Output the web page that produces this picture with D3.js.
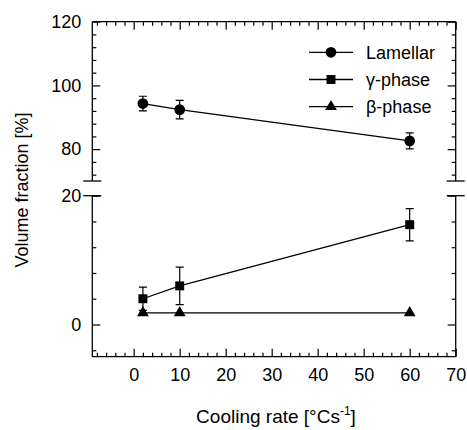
<!DOCTYPE html>
<html lang="en"><head>
<meta charset="utf-8">
<script src="https://cdnjs.cloudflare.com/ajax/libs/d3/7.8.5/d3.min.js"></script>
<style>
  body { margin: 0; background: #fff; }
  svg text { font-family: "Liberation Sans", Arial, Helvetica, sans-serif; fill: #000; }
  .axis path { display: none; }
  .axis line { stroke: #000; stroke-width: 1.2; }
</style>
</head>
<body>
<svg id="chart" width="467" height="430"></svg>
<script>
// cooling rates (x) and measured fractions
const rates = [2, 10, 60]
const lamellar = [94.3, 92.4, 82.6]
const lamellarErr = [2.3, 2.9, 2.5]
const gamma = [4.0, 6.0, 15.5]
const gammaErr = [1.8, 2.9, 2.5]
const beta = [1.8, 1.8, 1.8]

const xMajor = [0, 10, 20, 30, 40, 50, 60, 70]
const upperMajor = [80, 100, 120]
const lowerMajor = [0, 20]
const series = ["Lamellar", "\u03b3-phase", "\u03b2-phase"]

const L = 92.3, R = 455.7, T = 21.7, B = 356.7
const breakTop = 181, breakBot = 195.7

const svg = d3.select("#chart")
const x = d3.scaleLinear().domain([-9, 70]).range([L, R])
const yUp = d3.scaleLinear().domain([70, 120]).range([breakTop, T])
const yLo = d3.scaleLinear().domain([-5, 20]).range([B, breakBot])

// frame
const frame = svg.append("g").attr("stroke", "#000").attr("stroke-width", 1.3)
const seg = (x1, y1, x2, y2) => frame.append("line")
  .attr("x1", x1).attr("y1", y1).attr("x2", x2).attr("y2", y2)
seg(L, T, R, T)
seg(L, B, R, B)
seg(L, T, L, breakTop); seg(L, breakBot, L, B)
seg(R, T, R, breakTop); seg(R, breakBot, R, B)
// axis break marks
;[breakTop, breakBot].forEach(y => { seg(L - 9, y, L + 9, y); seg(R - 9, y, R + 9, y) })

const fs = 18
function axis(gen, tx, ty) {
  const g = svg.append("g").attr("class", "axis")
    .attr("transform", `translate(${tx},${ty})`).call(gen)
  g.selectAll("text").style("font-size", fs + "px")
  return g
}

// x axes (bottom + top)
const xMinor = d3.range(-8, 70, 2).filter(v => v % 10 != 0)
axis(d3.axisBottom(x).tickValues(xMinor).tickSizeInner(-4).tickSizeOuter(0).tickFormat(""), 0, B)
axis(d3.axisBottom(x).tickValues(xMajor).tickSizeInner(-8).tickSizeOuter(0).tickPadding(12), 0, B)
axis(d3.axisTop(x).tickValues(xMinor).tickSizeInner(-4).tickSizeOuter(0).tickFormat(""), 0, T)
axis(d3.axisTop(x).tickValues(xMajor).tickSizeInner(-8).tickSizeOuter(0).tickFormat(""), 0, T)

// y axes, both panels, left + right
const upMinor = d3.range(72, 120, 4).filter(v => v % 20 != 0)
const loMinor = [-4, 4, 8, 12, 16]
;[[yUp, upMinor, upperMajor], [yLo, loMinor, lowerMajor]].forEach(([s, mi, ma]) => {
  axis(d3.axisLeft(s).tickValues(mi).tickSizeInner(-4).tickSizeOuter(0).tickFormat(""), L, 0)
  axis(d3.axisLeft(s).tickValues(ma).tickSizeInner(-8).tickSizeOuter(0).tickPadding(11), L, 0)
  axis(d3.axisRight(s).tickValues(mi).tickSizeInner(-4).tickSizeOuter(0).tickFormat(""), R, 0)
  axis(d3.axisRight(s).tickValues(ma).tickSizeInner(-8).tickSizeOuter(0).tickFormat(""), R, 0)
})

// axis titles
const xt = svg.append("text").attr("x", 276).attr("y", 423).attr("text-anchor", "middle")
  .style("font-size", "19px")
xt.append("tspan").text("Cooling rate [\u00b0Cs")
xt.append("tspan").attr("dy", -8).style("font-size", "12px").text("-1")
xt.append("tspan").attr("dy", 8).text("]")
svg.append("text").attr("transform", "translate(28,190) rotate(-90)")
  .attr("text-anchor", "middle").style("font-size", fs + "px")
  .text("Volume fraction [%]")

// markers
const sym = {
  "Lamellar": d3.symbol(d3.symbolCircle, 90),
  "\u03b3-phase": d3.symbol(d3.symbolSquare, 80),
  "\u03b2-phase": d3.symbol(d3.symbolTriangle, 60)
}
const line = d3.line()
function drawSeries(name, ys, errs, yS) {
  const g = svg.append("g")
  g.append("path").attr("d", line(rates.map((r, i) => [x(r), yS(ys[i])])))
    .attr("fill", "none").attr("stroke", "#000").attr("stroke-width", 1.3)
  if (errs) {
    rates.forEach((r, i) => {
      const cx = x(r), y0 = yS(ys[i] - errs[i]), y1 = yS(ys[i] + errs[i])
      g.append("path").attr("d", `M${cx},${y0}V${y1}M${cx - 4},${y0}H${cx + 4}M${cx - 4},${y1}H${cx + 4}`)
        .attr("stroke", "#000").attr("stroke-width", 1.2).attr("fill", "none")
    })
  }
  g.selectAll(".m").data(ys).join("path")
    .attr("transform", (d, i) => `translate(${x(rates[i])},${yS(d)})`)
    .attr("d", sym[name]).attr("fill", "#000")
}
drawSeries(series[0], lamellar, lamellarErr, yUp)
drawSeries(series[1], gamma, gammaErr, yLo)
drawSeries(series[2], beta, null, yLo)

// legend
const leg = svg.append("g")
series.forEach((name, i) => {
  const y = 52.3 + i * 27.2
  leg.append("line").attr("x1", 309).attr("x2", 353).attr("y1", y).attr("y2", y)
    .attr("stroke", "#000").attr("stroke-width", 1.3)
  leg.append("path").attr("transform", `translate(331,${y})`).attr("d", sym[name]).attr("fill", "#000")
  leg.append("text").attr("x", 366).attr("y", y).attr("dy", "0.35em")
    .style("font-size", fs + "px").text(name)
})
</script>
</body>
</html>
